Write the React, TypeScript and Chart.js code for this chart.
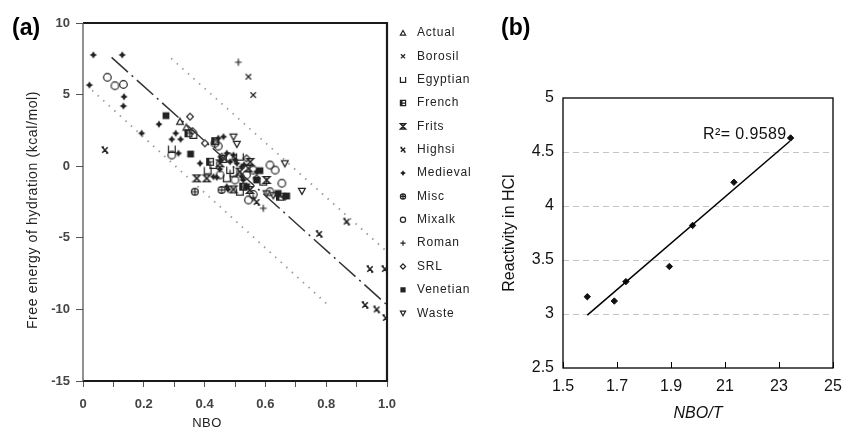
import React, { useEffect, useRef } from 'react';
import { Chart, registerables } from 'chart.js';
Chart.register(...registerables);

const FONT = "'Liberation Sans', Arial, sans-serif";

// ---------- Panel (a) data: [NBO, free energy of hydration] ----------
const actualPts: [number, number][] = [[0.319, 3.11], [0.34, 2.7]];
const borosilPts: [number, number][] = [[0.544, 6.25], [0.56, 4.97]];
const egyptianPts: [number, number][] = [[0.292, 1.2], [0.363, 2.18], [0.429, 0.08], [0.516, 0.66], [0.495, -0.5], [0.473, -0.85], [0.516, -1.78], [0.41, -0.3], [0.484, -0.27], [0.593, -1.08]];
const frenchPts: [number, number][] = [[0.347, 2.3], [0.418, 0.31], [0.648, -2.13], [0.46, 0.5], [0.527, -1.43], [0.435, 1.75]];
const fritsPts: [number, number][] = [[0.451, 0.2], [0.544, -0.15], [0.374, -0.85], [0.407, -0.85], [0.604, -0.96], [0.495, -1.62], [0.55, 0.3], [0.516, -0.38], [0.549, -1.66]];
const highsiPts: [number, number][] = [[0.072, 1.13], [0.777, -4.73], [0.867, -3.87], [0.944, -7.18], [0.993, -7.18], [0.928, -9.69], [0.966, -10.0], [0.996, -10.6], [0.571, -2.5]];
const medievalPts: [number, number][] = [[0.034, 7.77], [0.129, 7.77], [0.021, 5.67], [0.135, 4.85], [0.133, 4.2], [0.193, 2.3], [0.25, 2.93], [0.305, 2.3], [0.292, 1.88], [0.321, 1.88], [0.314, 0.9], [0.445, 1.95], [0.462, 2.06], [0.473, 0.9], [0.495, 0.78], [0.385, 0.2], [0.484, 0.31], [0.506, 0.2], [0.522, -0.03], [0.571, -0.38], [0.429, -0.73], [0.527, -0.96], [0.473, -1.43], [0.5, 0.45], [0.53, 0.1], [0.45, -0.2], [0.522, -0.73], [0.477, -1.62], [0.44, -0.78]];
const miscPts: [number, number][] = [[0.368, -1.78], [0.456, -1.66]];
const mixalkPts: [number, number][] = [[0.08, 6.21], [0.105, 5.62], [0.133, 5.71], [0.292, 0.78], [0.434, 1.6], [0.445, 1.4], [0.615, 0.08], [0.632, -0.27], [0.538, -0.61], [0.451, -0.61], [0.5, -0.96], [0.654, -1.19], [0.56, -1.97], [0.544, -2.36], [0.48, 0.65], [0.56, -0.27], [0.615, -1.78]];
const romanPts: [number, number][] = [[0.511, 7.26], [0.593, -2.94], [0.56, -2.2]];
const srlPts: [number, number][] = [[0.352, 3.46], [0.401, 1.6], [0.456, 0.66], [0.538, 0.55], [0.571, -0.85], [0.36, 2.45], [0.664, -2.13]];
const venetianPts: [number, number][] = [[0.273, 3.53], [0.354, 0.85], [0.582, -0.31], [0.538, -1.43], [0.67, -2.08], [0.571, -0.96], [0.642, -1.9]];
const wastePts: [number, number][] = [[0.495, 2.06], [0.506, 1.55], [0.664, 0.2], [0.604, -1.9], [0.626, -2.03], [0.72, -1.73]];

const seriesNames = ['Actual', 'Borosil', 'Egyptian', 'French', 'Frits', 'Highsi', 'Medieval', 'Misc', 'Mixalk', 'Roman', 'SRL', 'Venetian', 'Waste'];
const seriesPoints = [actualPts, borosilPts, egyptianPts, frenchPts, fritsPts, highsiPts, medievalPts, miscPts, mixalkPts, romanPts, srlPts, venetianPts, wastePts];

const fitLineA: [number, number][] = [[0.094, 7.6], [1.0, -9.69]];
const upperBandA: [number, number][] = [[0.29, 7.53], [1.0, -5.97]];
const lowerBandA: [number, number][] = [[0.03, 5.3], [0.806, -9.69]];

const xTicksA = ['0', '0.2', '0.4', '0.6', '0.8', '1.0'];
const yTicksA = ['-15', '-10', '-5', '0', '5', '10'];

// ---------- Panel (b) data ----------
const nboT = [1.59, 1.69, 1.733, 1.894, 1.98, 2.133, 2.343];
const reactivity = [3.16, 3.12, 3.3, 3.44, 3.82, 4.22, 4.63];
const fitLineB: [number, number][] = [[1.59, 2.99], [2.34, 4.6]];
const xTicksB = ['1.5', '1.7', '1.9', '21', '23', '25'];
const yTicksB = ['2.5', '3', '3.5', '4', '4.5', '5'];

function drawSym(ctx: CanvasRenderingContext2D, kind: string, x: number, y: number, r: number) {
  ctx.save();
  ctx.strokeStyle = '#222';
  ctx.fillStyle = '#222';
  ctx.lineWidth = 1.2;
  ctx.beginPath();
  switch (kind) {
    case 'Actual':
      ctx.moveTo(x - r, y + r * 0.8); ctx.lineTo(x, y - r); ctx.lineTo(x + r, y + r * 0.8); ctx.closePath(); ctx.stroke();
      break;
    case 'Borosil':
      ctx.moveTo(x - r * 0.8, y - r * 0.8); ctx.lineTo(x + r * 0.8, y + r * 0.8);
      ctx.moveTo(x + r * 0.8, y - r * 0.8); ctx.lineTo(x - r * 0.8, y + r * 0.8); ctx.stroke();
      break;
    case 'Egyptian':
      ctx.moveTo(x - r, y - r); ctx.lineTo(x - r, y + r); ctx.lineTo(x + r, y + r); ctx.lineTo(x + r, y - r); ctx.stroke();
      break;
    case 'French':
      ctx.rect(x - r, y - r, 2 * r, 2 * r); ctx.moveTo(x - r, y); ctx.lineTo(x + r, y); ctx.stroke();
      ctx.fillRect(x - r, y - r, r * 0.8, 2 * r);
      break;
    case 'Frits':
      ctx.moveTo(x - r, y - r); ctx.lineTo(x + r, y - r); ctx.lineTo(x - r, y + r); ctx.lineTo(x + r, y + r); ctx.closePath();
      ctx.lineWidth = 1.4; ctx.stroke();
      break;
    case 'Highsi':
      ctx.lineWidth = 1.5;
      ctx.moveTo(x - r * 0.8, y - r * 0.8); ctx.lineTo(x + r * 0.8, y + r * 0.8);
      ctx.moveTo(x + r * 0.8, y - r * 0.8); ctx.lineTo(x - r * 0.8, y + r * 0.8);
      ctx.moveTo(x - r, y - r * 0.9); ctx.lineTo(x - r * 0.3, y - r * 0.9);
      ctx.moveTo(x + r * 0.3, y + r * 0.9); ctx.lineTo(x + r, y + r * 0.9);
      ctx.stroke();
      break;
    case 'Medieval': {
      const a = r * 1.1, b = r * 0.4;
      ctx.moveTo(x, y - a); ctx.lineTo(x + b, y - b); ctx.lineTo(x + a, y); ctx.lineTo(x + b, y + b);
      ctx.lineTo(x, y + a); ctx.lineTo(x - b, y + b); ctx.lineTo(x - a, y); ctx.lineTo(x - b, y - b); ctx.closePath();
      ctx.fill();
      ctx.beginPath(); ctx.arc(x, y, r * 0.55, 0, Math.PI * 2); ctx.fill();
      break;
    }
    case 'Misc':
      ctx.arc(x, y, r, 0, Math.PI * 2);
      ctx.moveTo(x - r, y); ctx.lineTo(x + r, y); ctx.moveTo(x, y - r); ctx.lineTo(x, y + r); ctx.stroke();
      break;
    case 'Mixalk':
      ctx.arc(x, y, r, 0, Math.PI * 2); ctx.stroke();
      break;
    case 'Roman':
      ctx.moveTo(x - r, y); ctx.lineTo(x + r, y); ctx.moveTo(x, y - r); ctx.lineTo(x, y + r); ctx.stroke();
      break;
    case 'SRL':
      ctx.moveTo(x, y - r); ctx.lineTo(x + r, y); ctx.lineTo(x, y + r); ctx.lineTo(x - r, y); ctx.closePath(); ctx.stroke();
      break;
    case 'Venetian':
      ctx.fillRect(x - r, y - r, 2 * r, 2 * r);
      break;
    case 'Waste':
      ctx.moveTo(x - r, y - r * 0.8); ctx.lineTo(x + r, y - r * 0.8); ctx.lineTo(x, y + r); ctx.closePath(); ctx.stroke();
      break;
  }
  ctx.restore();
}

function makeSymbolCanvas(kind: string, r: number): HTMLCanvasElement {
  const size = Math.ceil(r * 2 + 5);
  const c = document.createElement('canvas');
  c.width = size;
  c.height = size;
  const ctx = c.getContext('2d')!;
  drawSym(ctx, kind, size / 2, size / 2, r);
  return c;
}

const toXY = (pts: [number, number][]) => pts.map(([x, y]) => ({ x, y }));

function configA(): any {
  const scatterSets = seriesNames.map((name, i) => ({
    type: 'scatter',
    label: name,
    data: toXY(seriesPoints[i]),
    pointStyle: makeSymbolCanvas(name, name === 'Mixalk' ? 3.8 : 3.4),
    pointRadius: 4,
    showLine: false,
  }));
  const lineSet = (pts: [number, number][], color: string, width: number, dash: number[]) => ({
    type: 'scatter',
    label: '',
    data: toXY(pts),
    showLine: true,
    borderColor: color,
    borderWidth: width,
    borderDash: dash,
    pointRadius: 0,
    fill: false,
  });
  const framePlugin = {
    id: 'frameA',
    beforeDatasetsDraw(chart: any) {
      const { ctx, chartArea: ca } = chart;
      ctx.save();
      ctx.strokeStyle = '#1a1a1a';
      ctx.lineWidth = 2.2;
      ctx.beginPath();
      ctx.moveTo(ca.left, ca.top); ctx.lineTo(ca.right, ca.top); ctx.lineTo(ca.right, ca.bottom); ctx.lineTo(ca.left, ca.bottom);
      ctx.stroke();
      ctx.strokeStyle = '#555';
      ctx.lineWidth = 1.3;
      ctx.beginPath();
      ctx.moveTo(ca.left, ca.top); ctx.lineTo(ca.left, ca.bottom);
      ctx.stroke();
      ctx.restore();
    },
  };
  const legendPlugin = {
    id: 'legendA',
    afterDraw(chart: any) {
      const { ctx, chartArea: ca } = chart;
      ctx.save();
      ctx.font = `12px ${FONT}`;
      (ctx as any).letterSpacing = '0.8px';
      ctx.fillStyle = '#222';
      ctx.textBaseline = 'middle';
      ctx.textAlign = 'left';
      seriesNames.forEach((n, i) => {
        const y = ca.top + 10 + i * 23.35;
        drawSym(ctx, n, ca.right + 16, y, 2.6);
        ctx.fillText(n, ca.right + 30, y);
      });
      // axis titles
      ctx.fillStyle = '#222';
      ctx.textAlign = 'center';
      ctx.font = `13px ${FONT}`;
      (ctx as any).letterSpacing = '0.5px';
      ctx.fillText('NBO', 207, 423);
      ctx.translate(33, 210);
      ctx.rotate(-Math.PI / 2);
      ctx.font = `14px ${FONT}`;
      (ctx as any).letterSpacing = '0.6px';
      ctx.fillText('Free energy of hydration (kcal/mol)', 0, 0);
      ctx.restore();
    },
  };
  return {
    type: 'scatter',
    data: {
      datasets: [
        lineSet(upperBandA, '#9a9a9a', 1.8, [1.5, 6]),
        lineSet(lowerBandA, '#9a9a9a', 1.8, [1.5, 6]),
        lineSet(fitLineA, '#333', 1.5, [22, 5, 2, 5]),
        ...scatterSets,
      ],
    },
    options: {
      responsive: false,
      animation: false,
      events: [],
      layout: { padding: { top: 23, right: 93, left: 0, bottom: 0 } },
      plugins: { legend: { display: false }, tooltip: { enabled: false }, title: { display: false } },
      scales: {
        x: {
          type: 'linear',
          min: 0,
          max: 1,
          afterFit: (s: any) => { s.height = 49; },
          border: { display: false },
          grid: { drawOnChartArea: false, drawTicks: true, tickLength: 6, color: '#555' },
          ticks: {
            stepSize: 0.1,
            autoSkip: false,
            maxRotation: 0,
            padding: 9.5,
            color: '#444',
            font: { family: FONT, size: 13, weight: 'bold' },
            callback: (v: number) => {
              const k = Math.round(v * 10);
              return k % 2 === 0 ? xTicksA[k / 2] : '';
            },
          },
        },
        y: {
          type: 'linear',
          min: -15,
          max: 10,
          afterFit: (s: any) => { s.width = 83; },
          border: { display: false },
          grid: { drawOnChartArea: false, drawTicks: true, tickLength: 7, color: '#555' },
          ticks: {
            stepSize: 5,
            padding: 6,
            color: '#444',
            font: { family: FONT, size: 13, weight: 'bold' },
            callback: (_v: number, i: number) => yTicksA[i],
          },
        },
      },
    },
    plugins: [framePlugin, legendPlugin],
  };
}

function configB(): any {
  const framePlugin = {
    id: 'frameB',
    afterDatasetsDraw(chart: any) {
      const { ctx, chartArea: ca, scales } = chart;
      ctx.save();
      ctx.strokeStyle = '#000';
      ctx.lineWidth = 1.3;
      ctx.strokeRect(ca.left, ca.top, ca.right - ca.left, ca.bottom - ca.top);
      ctx.lineWidth = 1;
      ctx.beginPath();
      scales.x.ticks.forEach((t: any) => {
        const px = Math.round(scales.x.getPixelForValue(t.value)) + 0.5;
        ctx.moveTo(px, ca.bottom);
        ctx.lineTo(px, ca.bottom - 6);
      });
      ctx.stroke();
      // R² annotation next to the last point
      const last = nboT.length - 1;
      const px = scales.x.getPixelForValue(nboT[last]);
      const py = scales.y.getPixelForValue(reactivity[last]);
      ctx.fillStyle = '#111';
      ctx.font = `16px ${FONT}`;
      (ctx as any).letterSpacing = '0.4px';
      ctx.textAlign = 'right';
      ctx.textBaseline = 'middle';
      ctx.fillText('R²= 0.9589', px - 4, py - 3);
      ctx.restore();
    },
  };
  return {
    type: 'scatter',
    data: {
      datasets: [
        {
          type: 'scatter',
          label: 'fit',
          data: toXY(fitLineB),
          showLine: true,
          borderColor: '#000',
          borderWidth: 1.5,
          pointRadius: 0,
          fill: false,
        },
        {
          type: 'scatter',
          label: 'Reactivity',
          data: nboT.map((x, i) => ({ x, y: reactivity[i] })),
          pointStyle: 'rectRot',
          pointRadius: 3.2,
          backgroundColor: '#111',
          borderColor: '#111',
          borderWidth: 1,
        },
      ],
    },
    options: {
      responsive: false,
      animation: false,
      events: [],
      layout: { padding: { top: 98, right: 20, left: 0, bottom: 0 } },
      plugins: { legend: { display: false }, tooltip: { enabled: false } },
      scales: {
        x: {
          type: 'linear',
          min: 1.5,
          max: 2.5,
          afterFit: (s: any) => { s.height = 62; },
          border: { display: false },
          grid: { display: false, drawTicks: false },
          ticks: {
            stepSize: 0.2,
            autoSkip: false,
            maxRotation: 0,
            padding: 9,
            color: '#111',
            font: { family: FONT, size: 16 },
            callback: (_v: number, i: number) => xTicksB[i],
          },
          title: {
            display: true,
            text: 'NBO/T',
            color: '#111',
            font: { family: FONT, size: 16, style: 'italic' },
            padding: { top: 0, bottom: 7 },
          },
        },
        y: {
          type: 'linear',
          min: 2.5,
          max: 5,
          afterFit: (s: any) => { s.width = 83; },
          border: { display: false, dash: [6, 4] },
          grid: {
            drawTicks: false,
            lineWidth: 1,
            color: (c: any) => (c.tick && c.tick.value > 2.5 && c.tick.value < 5 ? '#c4c4c4' : 'rgba(0,0,0,0)'),
          },
          ticks: {
            stepSize: 0.5,
            padding: 9,
            color: '#111',
            font: { family: FONT, size: 16 },
            callback: (_v: number, i: number) => yTicksB[i],
          },
          title: {
            display: true,
            text: 'Reactivity in HCl',
            color: '#111',
            font: { family: FONT, size: 16 },
            padding: { top: 20, bottom: 0 },
          },
        },
      },
    },
    plugins: [framePlugin],
  };
}

export default function App() {
  const refA = useRef<HTMLCanvasElement>(null);
  const refB = useRef<HTMLCanvasElement>(null);
  useEffect(() => {
    const a = new Chart(refA.current!, configA());
    const b = new Chart(refB.current!, configB());
    return () => {
      a.destroy();
      b.destroy();
    };
  }, []);
  const labelStyle = { position: 'absolute' as const, font: `bold 23px ${FONT}`, color: '#000', lineHeight: '26px' };
  return (
    <div style={{ position: 'fixed', left: 0, top: 0, width: 853, height: 430, background: '#fff' }}>
      <canvas ref={refA} width={480} height={430} style={{ position: 'absolute', left: 0, top: 0, width: 480, height: 430 }} />
      <canvas ref={refB} width={373} height={430} style={{ position: 'absolute', left: 480, top: 0, width: 373, height: 430 }} />
      <div style={{ ...labelStyle, left: 12, top: 14 }}>(a)</div>
      <div style={{ ...labelStyle, left: 501, top: 14 }}>(b)</div>
    </div>
  );
}
